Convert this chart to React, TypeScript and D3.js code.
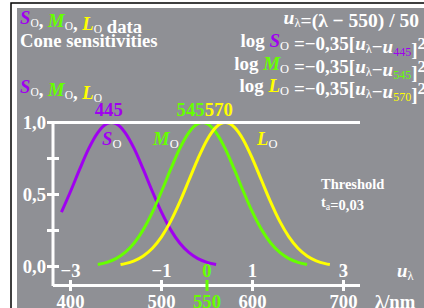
import React from "react";
import * as d3 from "d3";

const waveS = [390, 400, 410, 420, 430, 440, 445, 450, 460, 470, 480, 490, 500, 510, 520, 530, 540, 550, 560];
const valS = [0.377, 0.521, 0.674, 0.818, 0.93, 0.992, 1, 0.992, 0.93, 0.818, 0.674, 0.521, 0.377, 0.256, 0.163, 0.0974, 0.0545, 0.0286, 0.0141];
const waveM = [430, 440, 450, 460, 470, 480, 490, 500, 510, 520, 530, 540, 545, 550, 560, 570, 580, 590, 600, 610, 620, 630, 640, 650, 660];
const valM = [0.0141, 0.0286, 0.0545, 0.0974, 0.163, 0.256, 0.377, 0.521, 0.674, 0.818, 0.93, 0.992, 1, 0.992, 0.93, 0.818, 0.674, 0.521, 0.377, 0.256, 0.163, 0.0974, 0.0545, 0.0286, 0.0141];
const waveL = [455, 460, 470, 480, 490, 500, 510, 520, 530, 540, 550, 560, 570, 580, 590, 600, 610, 620, 630, 640, 650, 660, 670, 680, 685];
const valL = [0.0141, 0.0202, 0.0398, 0.0735, 0.127, 0.206, 0.313, 0.447, 0.597, 0.748, 0.879, 0.968, 1, 0.968, 0.879, 0.748, 0.597, 0.447, 0.313, 0.206, 0.127, 0.0735, 0.0398, 0.0202, 0.0141];

const peakWaves = [445, 545, 570];
const peakLabelWaves = [442, 532, 563];
const nmTicks = [400, 500, 550, 600, 700];
const nmTickLabels = ["400", "500", "550", "600", "700"];
const uTickLabels = ["\u22123", "\u22121", "0", "1", "3"];
const yTicks = [0, 0.25, 0.5, 0.75, 1];
const yTickLabels: Record<number, string> = { 0: "0,0", 0.5: "0,5", 1: "1,0" };

const PURPLE = "#a000f0";
const GREEN = "#66ff00";
const YELLOW = "#ffff00";
const GRAY = "#8f9095";
const FONT = '"Liberation Serif", "Times New Roman", serif';
const FS = 18.7;

export default function App() {
  const x = d3.scaleLinear().domain([400, 700]).range([70.5, 343.5]);
  const y = d3.scaleLinear().domain([0, 1]).range([266.5, 122.5]);
  const line = d3
    .line<[number, number]>()
    .x((d) => x(d[0]))
    .y((d) => y(d[1]))
    .curve(d3.curveMonotoneX);
  const series = [
    { w: waveS, v: valS, c: PURPLE },
    { w: waveM, v: valM, c: GREEN },
    { w: waveL, v: valL, c: YELLOW },
  ];
  const peakColors = [PURPLE, GREEN, YELLOW];
  const sub = (t: string, fill = "white", size = 11.5) => (
    <>
      <tspan fontSize={size} fontWeight="normal" fontStyle="normal" fill={fill} dy={3}>
        {t}
      </tspan>
      <tspan dy={-3}></tspan>
    </>
  );
  const formula = (yy: number, letter: string, col: string, peak: string) => (
    <text x={426} y={yy} textAnchor="end" fontSize={19} fontWeight="bold" fill="white">
      <tspan>log </tspan>
      <tspan fill={col} fontStyle="italic">{letter}</tspan>
      {sub("O", "white", 12.5)}
      <tspan> =−0,35[</tspan>
      <tspan fontStyle="italic">u</tspan>
      {sub("λ", "white", 12.5)}
      <tspan>−</tspan>
      <tspan fontStyle="italic">u</tspan>
      {sub(peak, col, 12)}
      <tspan>]</tspan>
      <tspan dy={-7} fontSize={17}>2</tspan>
    </text>
  );
  return (
    <svg
      width={424}
      height={308}
      style={{ position: "absolute", left: 0, top: 0, fontFamily: FONT }}
    >
      <rect x={0} y={0} width={424} height={308} fill="white" />
      <rect x={11} y={3} width={430} height={320} fill="none" stroke="black" strokeWidth={1.5} />
      <rect x={17} y={8} width={407} height={300} fill={GRAY} />

      {/* header left */}
      <text x={20} y={24} fontSize={FS} fontWeight="bold" fill="white">
        <tspan fill={PURPLE} fontStyle="italic">S</tspan>
        {sub("O")}
        <tspan>, </tspan>
        <tspan fill={GREEN} fontStyle="italic">M</tspan>
        {sub("O")}
        <tspan>, </tspan>
        <tspan fill={YELLOW} fontStyle="italic">L</tspan>
        {sub("O")}
        <tspan> data</tspan>
      </text>
      <text x={20} y={47} fontSize={FS} fontWeight="bold" fill="white">
        Cone sensitivities
      </text>
      <text x={20} y={93} fontSize={FS} fontWeight="bold" fill="white">
        <tspan fill={PURPLE} fontStyle="italic">S</tspan>
        {sub("O")}
        <tspan>, </tspan>
        <tspan fill={GREEN} fontStyle="italic">M</tspan>
        {sub("O")}
        <tspan>, </tspan>
        <tspan fill={YELLOW} fontStyle="italic">L</tspan>
        {sub("O")}
      </text>

      {/* header right */}
      <text x={419} y={24} textAnchor="end" fontSize={19.5} fontWeight="bold" fill="white">
        <tspan fontStyle="italic">u</tspan>
        {sub("λ", "white", 12.5)}
        <tspan>=(λ − 550) / 50</tspan>
      </text>
      {formula(47, "S", PURPLE, "445")}
      {formula(70, "M", GREEN, "545")}
      {formula(92, "L", YELLOW, "570")}

      {/* curves */}
      {series.map((s, i) => (
        <path
          key={i}
          d={line(s.w.map((w, j) => [w, s.v[j]] as [number, number])) || ""}
          fill="none"
          stroke={s.c}
          strokeWidth={3}
        />
      ))}

      {/* axes */}
      <line x1={47} x2={360} y1={y(1)} y2={y(1)} stroke="white" strokeWidth={3} />
      <line x1={53} x2={53} y1={y(1)} y2={286} stroke="white" strokeWidth={3} />
      <line x1={53} x2={360} y1={285.5} y2={285.5} stroke="white" strokeWidth={3} />
      {yTicks.map((t) => (
        <line key={t} x1={47} x2={59} y1={y(t)} y2={y(t)} stroke="white" strokeWidth={3} />
      ))}
      {yTicks
        .filter((t) => yTickLabels[t])
        .map((t) => (
          <text key={t} x={46} y={y(t) + 6} textAnchor="end" fontSize={FS} fontWeight="bold" fill="white">
            {yTickLabels[t]}
          </text>
        ))}
      {nmTicks.map((t, i) => {
        const c = t === 550 ? GREEN : "white";
        return (
          <g key={t}>
            <line x1={x(t)} x2={x(t)} y1={280} y2={291} stroke={c} strokeWidth={3} />
            <text x={x(t)} y={277} textAnchor="middle" fontSize={FS} fontWeight="bold" fill={c}>
              {uTickLabels[i]}
            </text>
            <text x={x(t)} y={307.5} textAnchor="middle" fontSize={FS} fontWeight="bold" fill={c}>
              {nmTickLabels[i]}
            </text>
          </g>
        );
      })}
      <text x={397} y={277} fontSize={FS} fontWeight="bold" fill="white">
        <tspan fontStyle="italic">u</tspan>
        {sub("λ", "white", 12.5)}
      </text>
      <text x={375} y={307.5} fontSize={FS} fontWeight="bold" fill="white">
        λ/nm
      </text>

      {/* peak labels */}
      {peakWaves.map((p, i) => (
        <text key={p} x={x(peakLabelWaves[i])} y={116} textAnchor="middle" fontSize={FS} fontWeight="bold" fill={peakColors[i]}>
          {String(p)}
        </text>
      ))}

      {/* curve labels */}
      <text x={102} y={145} fontSize={FS} fontWeight="bold" fill={PURPLE}>
        <tspan fontStyle="italic">S</tspan>
        {sub("O", "white", 12.5)}
      </text>
      <text x={153} y={145} fontSize={FS} fontWeight="bold" fill={GREEN}>
        <tspan fontStyle="italic">M</tspan>
        {sub("O", "white", 12.5)}
      </text>
      <text x={257} y={145} fontSize={FS} fontWeight="bold" fill={YELLOW}>
        <tspan fontStyle="italic">L</tspan>
        {sub("O", "white", 12.5)}
      </text>

      <text x={321} y={189} fontSize={14.5} fontWeight="bold" fill="white">
        Threshold
      </text>
      <text x={321} y={207} fontSize={14.5} fontWeight="bold" fill="white">
        <tspan>t</tspan>
        {sub("a", "white", 10)}
        <tspan>=0,03</tspan>
      </text>
    </svg>
  );
}
